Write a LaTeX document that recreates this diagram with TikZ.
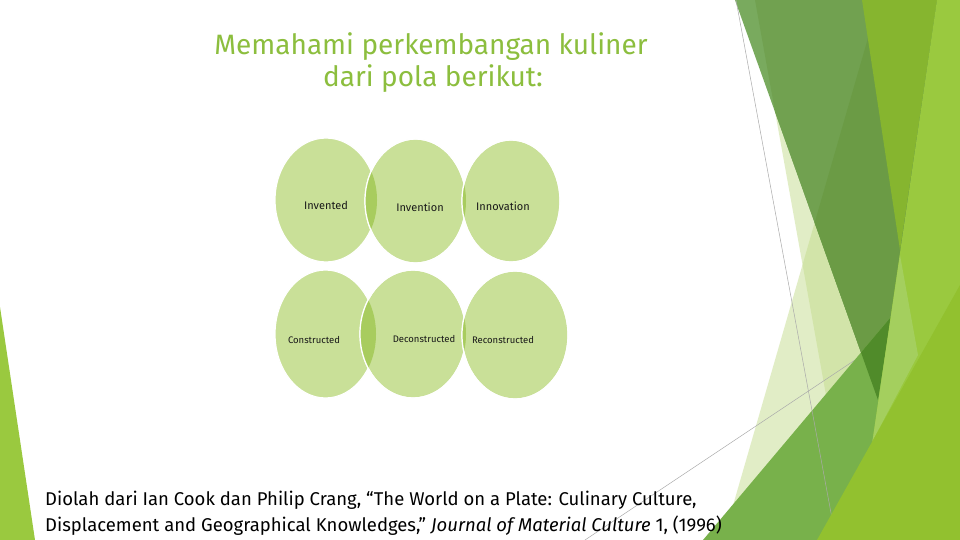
\documentclass[tikz,border=0pt]{standalone}
\usepackage{fontspec}
\setmainfont{Fira Sans}
\usetikzlibrary{positioning}
\definecolor{headgreen}{RGB}{140,190,62}
\definecolor{petalgreen}{RGB}{201,224,152}
\definecolor{lensgreen}{RGB}{168,204,94}
\definecolor{palegreen}{RGB}{197,221,142}
\definecolor{olivelight}{RGB}{121,170,94}
\definecolor{olivemid}{RGB}{113,161,80}
\definecolor{olivedark}{RGB}{107,155,69}
\definecolor{deepgreen}{RGB}{80,139,42}
\definecolor{midgreen}{RGB}{120,177,75}
\definecolor{limegreen}{RGB}{154,201,63}
\definecolor{brightgreen}{RGB}{134,181,47}
\definecolor{yellowgreen}{RGB}{146,193,47}
\definecolor{stripgreen}{RGB}{164,207,94}
\definecolor{hairline}{RGB}{170,170,170}

\begin{document}
\begin{tikzpicture}[x=1pt,y=-1pt,
    petal/.style={fill=petalgreen,draw=white,line width=1.2pt},
    rim/.style={draw=white,line width=1.2pt},
    bigword/.style={inner sep=0pt,text=black!90,font=\fontsize{11}{13}\selectfont},
    smallword/.style={inner sep=0pt,text=black!90,font=\fontsize{9.5}{11}\selectfont},
    headline/.style={inner sep=0pt,anchor=base,text=headgreen,font=\fontsize{28}{32}\selectfont},
    citeline/.style={inner sep=0pt,anchor=base west,font=\fontsize{18.5}{22}\selectfont}]
	\useasboundingbox (0,0) rectangle (960,540);
	\fill[white] (0,0) rectangle (960,540);

	\fill[limegreen] (0,307)--(35,540)--(0,540)--cycle;
	\fill[palegreen,fill opacity=0.5] (755,0)--(800,0)--(900,540)--(852,540)--cycle;
	\fill[palegreen,fill opacity=0.5] (879,0)--(960,0)--(960,540)--(723,540)--cycle;
	\draw[hairline,line width=0.5pt] (585,540)--(855,360);
	\begin{scope}
		\clip (735,0)--(940,0)--(878,400)--cycle;
		\fill[olivelight] (700,0) rectangle (960,540);
		\fill[olivemid] (755,0)--(960,0)--(960,540)--(852,540)--cycle;
		\fill[olivedark] (879,0)--(960,0)--(960,540)--(723,540)--cycle;
	\end{scope}
	\fill[brightgreen] (862,0)--(937,0)--(900,250)--cycle;
	\fill[midgreen] (703,540)--(960,235)--(960,540)--cycle;
	\fill[deepgreen] (861,352.5)--(891,317)--(878,400)--cycle;
	\fill[limegreen] (937,0)--(960,0)--(960,540)--(858,540)--cycle;
	\fill[stripgreen] (900,255)--(918,355)--(872.5,441)--cycle;
	\draw[hairline,line width=0.5pt] (736,0)--(836,540);
	\fill[yellowgreen] (817,540)--(960,285)--(960,540)--cycle;

	\node[headline] (head1) at (431,55) {Memahami perkembangan kuliner};
	\node[headline] (head2) at (433,87) {dari pola berikut:};

	\coordinate (invented) at (326,200);
	\coordinate (invention) at (415.5,201);
	\coordinate (innovation) at (511,201);
	\coordinate (constructed) at (325.5,334);
	\coordinate (deconstructed) at (413,334);
	\coordinate (reconstructed) at (515,335);

	\draw[petal] (invented) ellipse [x radius=51,y radius=62];
	\draw[petal] (invention) ellipse [x radius=50.5,y radius=62];
	\begin{scope}
		\clip (invented) ellipse [x radius=51,y radius=62];
		\fill[lensgreen] (invention) ellipse [x radius=50.5,y radius=62];
	\end{scope}
	\draw[rim] (invention) ellipse [x radius=50.5,y radius=62];
	\draw[petal] (innovation) ellipse [x radius=49,y radius=61];
	\begin{scope}
		\clip (invention) ellipse [x radius=50.5,y radius=62];
		\fill[lensgreen] (innovation) ellipse [x radius=49,y radius=61];
	\end{scope}
	\draw[rim] (innovation) ellipse [x radius=49,y radius=61];

	\draw[petal] (constructed) ellipse [x radius=50.5,y radius=64];
	\draw[petal] (deconstructed) ellipse [x radius=53,y radius=64];
	\begin{scope}
		\clip (constructed) ellipse [x radius=50.5,y radius=64];
		\fill[lensgreen] (deconstructed) ellipse [x radius=53,y radius=64];
	\end{scope}
	\draw[rim] (deconstructed) ellipse [x radius=53,y radius=64];
	\draw[petal] (reconstructed) ellipse [x radius=53,y radius=64];
	\begin{scope}
		\clip (deconstructed) ellipse [x radius=53,y radius=64];
		\fill[lensgreen] (reconstructed) ellipse [x radius=53,y radius=64];
	\end{scope}
	\draw[rim] (reconstructed) ellipse [x radius=53,y radius=64];

	\node[bigword] (w_invented) at (326,205) {Invented};
	\node[bigword] (w_invention) at (420,207) {Invention};
	\node[bigword] (w_innovation) at (503,206) {Innovation};
	\node[smallword] (w_constructed) at (314,340) {Constructed};
	\node[smallword] (w_deconstructed) at (424,338.5) {Deconstructed};
	\node[smallword] (w_reconstructed) at (503,340) {Reconstructed};

	\node[citeline] (cite1) at (45,505) {Diolah dari Ian Cook dan Philip Crang, “The World on a Plate: Culinary Culture,};
	\node[citeline] (cite2) at (45,531) {Displacement and Geographical Knowledges,” \textit{Journal of Material Culture} 1, (1996)};
\end{tikzpicture}
\end{document}
